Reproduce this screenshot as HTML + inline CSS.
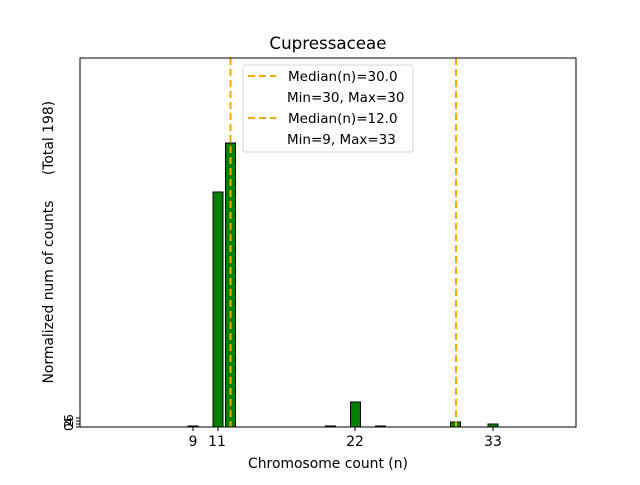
<!DOCTYPE html>
<html><head><style>body{margin:0;background:#fff}</style></head><body>
<svg width="640" height="480" xmlns="http://www.w3.org/2000/svg" font-family="DejaVu Sans, Liberation Sans, sans-serif">
<rect width="640" height="480" fill="#fff"/>
<g fill="#008000" stroke="#000" stroke-width="1">
<rect x="188" y="426" width="10" height="1"/>
<rect x="213" y="192" width="10" height="235"/>
<rect x="225.5" y="143" width="10" height="284"/>
<rect x="325.5" y="426" width="10" height="1"/>
<rect x="350.5" y="402" width="10" height="25"/>
<rect x="375.5" y="426" width="10" height="1"/>
<rect x="450.5" y="422" width="10" height="5"/>
<rect x="488" y="424" width="10" height="3"/>
</g>
<g stroke="#ffa500" stroke-width="2" stroke-dasharray="7,4">
<line x1="230.5" y1="58" x2="230.5" y2="427"/>
<line x1="456" y1="58" x2="456" y2="427"/>
</g>
<rect x="80" y="58" width="496" height="369" fill="none" stroke="#000" stroke-width="1"/>
<g stroke="#000">
<line x1="193" y1="427" x2="193" y2="431"/>
<line x1="218" y1="427" x2="218" y2="431"/>
<line x1="355" y1="427" x2="355" y2="431"/>
<line x1="493" y1="427" x2="493" y2="431"/>
<line x1="76" y1="427" x2="80" y2="427"/>
<line x1="76" y1="424" x2="80" y2="424"/>
<line x1="76" y1="421" x2="80" y2="421"/>
<line x1="76" y1="418" x2="80" y2="418"/>
</g>
<g font-size="13.9" text-anchor="middle">
<text x="193" y="446">9</text>
<text x="217" y="446">11</text>
<text x="355" y="446">22</text>
<text x="493" y="446">33</text>
<text x="328" y="468">Chromosome count (n)</text>
<text x="328" y="49" font-size="16.7">Cupressaceae</text>
<text transform="translate(53,292) rotate(-90)">Normalized num of counts</text>
<text transform="translate(53,138) rotate(-90)">(Total 198)</text>
</g>
<g font-size="12" text-anchor="middle">
<text transform="translate(73,427) rotate(-90)">0</text>
<text transform="translate(73,424) rotate(-90)">2</text>
<text transform="translate(73,421) rotate(-90)">4</text>
<text transform="translate(73,418) rotate(-90)">6</text>
</g>
<rect x="243" y="65" width="170" height="87" rx="2" fill="#fff" stroke="#ccc" stroke-opacity="0.8"/>
<g stroke="#ffa500" stroke-width="2" stroke-dasharray="7,4">
<line x1="248" y1="76" x2="276" y2="76"/>
<line x1="248" y1="118" x2="276" y2="118"/>
</g>
<g font-size="13.5">
<text x="288" y="81">Median(n)=30.0</text>
<text x="287" y="102">Min=30, Max=30</text>
<text x="288" y="123">Median(n)=12.0</text>
<text x="287" y="144">Min=9, Max=33</text>
</g>
</svg>
</body></html>
